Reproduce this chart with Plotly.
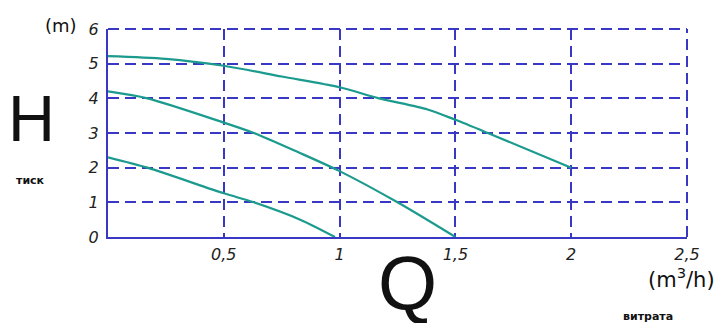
import plotly.graph_objects as go

# Data
q_top = [0.0, 0.25, 0.5, 0.75, 1.0, 1.17, 1.38, 1.5, 1.64, 2.0]
h_top = [5.22, 5.14, 4.94, 4.63, 4.32, 4.0, 3.68, 3.38, 3.0, 2.0]

q_mid = [0.0, 0.17, 0.5, 0.63, 0.82, 1.0, 1.25, 1.5]
h_mid = [4.2, 4.0, 3.3, 3.0, 2.45, 1.9, 1.0, 0.0]

q_low = [0.0, 0.17, 0.5, 0.63, 0.83, 0.98]
h_low = [2.3, 2.0, 1.26, 1.0, 0.5, 0.0]

x_ticks = [0.5, 1, 1.5, 2, 2.5]
x_tick_labels = ["0,5", "1", "1,5", "2", "2,5"]
y_ticks = [0, 1, 2, 3, 4, 5, 6]
y_tick_labels = ["0", "1", "2", "3", "4", "5", "6"]

grid_color = "#3838c4"
curve_color = "#1b9a8e"
tick_font = dict(family="DejaVu Sans", size=16, color="#222222", style="italic")
DASH = "11px,6px"

# page body has an 8px margin in the browser, so the figure is sized to fit
W, H = 717, 315
OX, OY = 8, 8
L, T = 108 - OX, 29 - OY
PW, PH = 687 - 108, 237 - 29

fig = go.Figure()
for xs, ys in [(q_top, h_top), (q_mid, h_mid), (q_low, h_low)]:
    fig.add_trace(go.Scatter(x=xs, y=ys, mode="lines",
                             line=dict(color=curve_color, width=2.2, shape="spline", smoothing=0.8),
                             showlegend=False, hoverinfo="skip"))

fig.update_layout(
    width=W, height=H,
    margin=dict(l=L, r=W - L - PW, t=T, b=H - T - PH),
    paper_bgcolor="white", plot_bgcolor="white",
    xaxis=dict(range=[0, 2.5], tickvals=x_ticks, ticktext=x_tick_labels,
               showgrid=True, gridcolor=grid_color, griddash=DASH, gridwidth=2,
               zeroline=False, showline=True, linecolor=grid_color, linewidth=2,
               ticks="", tickfont=tick_font, ticklabelstandoff=2),
    yaxis=dict(range=[0, 6], tickvals=y_ticks, ticktext=y_tick_labels,
               showgrid=True, gridcolor=grid_color, griddash=DASH, gridwidth=2,
               zeroline=False, showline=True, linecolor=grid_color, linewidth=2,
               ticks="", tickfont=tick_font, ticklabelstandoff=4),
)

# Top and right dashed borders (grid at 6 and 2.5 sit on edges)
fig.add_shape(type="line", xref="paper", yref="paper", x0=0, x1=1, y0=1, y1=1,
              line=dict(color=grid_color, width=2, dash=DASH))
fig.add_shape(type="line", xref="paper", yref="paper", x0=1, x1=1, y0=0, y1=1,
              line=dict(color=grid_color, width=2, dash=DASH))

def txt(x, y, s, size, bold=False, family="DejaVu Sans"):
    fig.add_annotation(x=x, y=y, xref="paper", yref="paper", text=s, showarrow=False,
                       xanchor="center", yanchor="middle",
                       font=dict(family=family, size=size, color="#111111",
                                 weight="bold" if bold else "normal"))

def px(xp):
    return (xp - 108) / PW

def py(yp):
    return (237 - yp) / PH

txt(px(61), py(25), "(m)", 18)
txt(px(32), py(118), "H", 65, family="Liberation Sans")
txt(px(30), py(180), "тиск", 11, bold=True)
txt(px(407), py(282), "Q", 76, family="Liberation Sans")
txt(px(681), py(278), "(m<sup>3</sup>/h)", 21)
txt(px(648), py(316), "витрата", 11, bold=True)

fig.write_html("out.html")
